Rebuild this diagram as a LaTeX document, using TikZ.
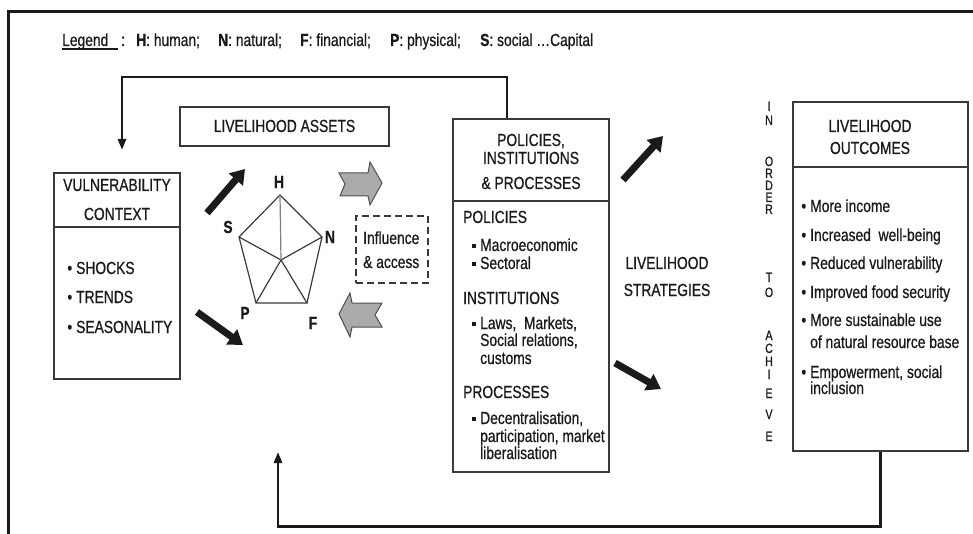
\documentclass[tikz,border=0pt]{standalone}
\usepackage{fontspec}
\setmainfont{Liberation Sans}[FakeStretch=0.79, FakeBold=0.7]
\usetikzlibrary{arrows.meta}
\definecolor{ink}{HTML}{1A1A1A}
\definecolor{boxline}{HTML}{3A3A3A}
\definecolor{chev}{HTML}{ABABAB}
\definecolor{chevline}{HTML}{505050}
\newcommand\sqbul{\llap{\raisebox{3pt}{\rule{4pt}{4pt}}\hspace{4pt}}}
\newcommand\rdbul{\llap{•\hspace{4pt}}}
\begin{document}
\begin{tikzpicture}[x=1pt,y=-1pt,
  txt/.style={inner sep=0pt, text=ink, font=\fontsize{17.5}{20}\selectfont},
  lt/.style={txt, anchor=base west},
  ct/.style={txt, anchor=base},
  vletter/.style={inner sep=0pt, text=ink, anchor=base, font=\fontsize{13.5}{14}\selectfont},
  panel/.style={draw=boxline, line width=1.3pt, inner sep=0pt},
  bigarrow/.style={line width=7pt, draw=ink, -{Triangle[length=14pt,width=18pt]}},
  loop/.style={line width=2.6pt, draw=ink},
  loophead/.style={loop, -{Triangle[length=11pt,width=8pt]}},
  chevron/.style={fill=chev, draw=chevline, line width=1pt, line join=miter},
  pent/.style={draw=boxline, line width=1.2pt},
  plabel/.style={txt, font=\fontsize{17.5}{20}\selectfont\bfseries},
]
\useasboundingbox (0,0) rectangle (973,534);

% outer frame (open towards the lower right)
\draw[line width=3pt, ink] (8,545) -- (8,12) -- (985,12);

% legend
\node[lt] (leg0) at (62,46) {\rlap{\rule[-4pt]{56pt}{1.6pt}}Legend};
\node[lt] (leg1) at (121,46) {:};
\node[lt] (leg2) at (136,46) {\textbf{H}: human;};
\node[lt] (leg3) at (218,46) {\textbf{N}: natural;};
\node[lt] (leg4) at (300,46) {\textbf{F}: financial;};
\node[lt] (leg5) at (390,46) {\textbf{P}: physical;};
\node[lt] (leg6) at (480,46) {\textbf{S}: social …Capital};

% panels
\node[panel, minimum width=126pt, minimum height=206pt] (vc) at (117,276) {};
\node[panel, minimum width=209pt, minimum height=39pt] (la) at (284.5,126.5) {};
\node[panel, minimum width=156pt, minimum height=353pt] (pip) at (531,295.5) {};
\node[panel, minimum width=175pt, minimum height=349pt] (lo) at (880.5,276.5) {};
\node[panel, dashed, dash pattern=on 7pt off 4pt, minimum width=72pt, minimum height=67pt] (inf) at (392,249.5) {};

\draw[boxline, line width=1.3pt] (vc.west |- 0,227) -- (vc.east |- 0,227);
\draw[boxline, line width=1.3pt] (pip.west |- 0,201) -- (pip.east |- 0,201);
\draw[boxline, line width=1.3pt] (lo.west |- 0,167) -- (lo.east |- 0,167);

% vulnerability context
\node[ct] (vct1) at (117,191) {VULNERABILITY};
\node[ct] (vct2) at (117,220) {CONTEXT};
\node[lt] (vcb1) at (76,274) {\rdbul SHOCKS};
\node[lt] (vcb2) at (76,303) {\rdbul TRENDS};
\node[lt] (vcb3) at (76,333) {\rdbul SEASONALITY};

% livelihood assets
\node[ct] (lat) at (284.5,132) {LIVELIHOOD ASSETS};

% asset pentagon
\coordinate (pH) at (280,195);
\coordinate (pN) at (322,237);
\coordinate (pF) at (307,303);
\coordinate (pP) at (256,303);
\coordinate (pS) at (239,237);
\coordinate (pC) at (281,260);
\draw[pent] (pH) -- (pN) -- (pF) -- (pP) -- (pS) -- cycle;
\draw[pent] (pC) -- (pN);
\draw[pent] (pC) -- (pF);
\draw[pent] (pC) -- (pP);
\draw[pent] (pC) -- (pS);
\draw[pent, draw=gray] (pC) -- (pH);
\node[plabel] (lH) at (279,182) {H};
\node[plabel] (lS) at (228,227) {S};
\node[plabel] (lN) at (330,237) {N};
\node[plabel] (lP) at (245,313) {P};
\node[plabel] (lF) at (313,323) {F};

% influence & access
\node[lt] (inf1) at (363,244) {Influence};
\node[lt] (inf2) at (363,268) {\& access};

% grey chevrons between assets and transforming structures
\filldraw[chevron] (339,173) -- (368,173) -- (370,162) -- (382,183) -- (370,205)
  -- (368,196) -- (340,196) -- (345,184) -- cycle;
\filldraw[chevron] (339,314) -- (350,293) -- (352,303) -- (382,303) -- (375,315)
  -- (382,327) -- (352,327) -- (350,337) -- cycle;

% policies, institutions and processes
\node[ct] (ph1) at (531,146) {POLICIES,};
\node[ct] (ph2) at (531,164) {INSTITUTIONS};
\node[ct] (ph3) at (531,189) {\& PROCESSES};
\node[lt] (pp1) at (463,223) {POLICIES};
\node[lt] (pp2) at (480,251) {\sqbul Macroeconomic};
\node[lt] (pp3) at (480,269) {\sqbul Sectoral};
\node[lt] (pi1) at (463,304) {INSTITUTIONS};
\node[lt] (pi2) at (480,329) {\sqbul Laws,\ \ Markets,};
\node[lt] (pi3) at (480,346) {Social relations,};
\node[lt] (pi4) at (480,364) {customs};
\node[lt] (pr1) at (463,398) {PROCESSES};
\node[lt] (pr2) at (480,424) {\sqbul Decentralisation,};
\node[lt] (pr3) at (480,442) {participation, market};
\node[lt] (pr4) at (480,459) {liberalisation};

% livelihood strategies
\node[ct] (ls1) at (667,269) {LIVELIHOOD};
\node[ct] (ls2) at (667,296) {STRATEGIES};

% vertical caption
\foreach \ch/\yy [count=\i] in {I/106,N/120,O/161,R/173,D/185,E/197,R/209,T/277,O/292,
    A/335,C/348,H/361,I/374,E/393,V/414,E/436}
  \node[vletter] (ach\i) at (769,\yy+5) {\ch};

% livelihood outcomes
\node[ct] (lo1) at (870,132) {LIVELIHOOD};
\node[ct] (lo2) at (870,154) {OUTCOMES};
\node[lt] (lob1) at (810,212) {\rdbul More income};
\node[lt] (lob2) at (810,241) {\rdbul Increased\ \ well-being};
\node[lt] (lob3) at (810,269) {\rdbul Reduced vulnerability};
\node[lt] (lob4) at (810,298) {\rdbul Improved food security};
\node[lt] (lob5) at (810,326) {\rdbul More sustainable use};
\node[lt] (lob6) at (810,348) {of natural resource base};
\node[lt] (lob7) at (810,378) {\rdbul Empowerment, social};
\node[lt] (lob8) at (810,394) {inclusion};

% black arrows
\coordinate (a1s) at (207,213); \coordinate (a1e) at (245,169);
\coordinate (a2s) at (197,312); \coordinate (a2e) at (243,345);
\coordinate (a3s) at (623,180); \coordinate (a3e) at (663,136);
\coordinate (a4s) at (615,363); \coordinate (a4e) at (661,389);
\draw[bigarrow] (a1s) -- (a1e);
\draw[bigarrow] (a2s) -- (a2e);
\draw[bigarrow] (a3s) -- (a3e);
\draw[bigarrow] (a4s) -- (a4e);

% feedback loops
\coordinate (topTurn) at (122,77);
\coordinate (vcIn) at (122,150);
\coordinate (botIn) at (278,452);
\draw[loophead] ([xshift=-24pt]pip.north) |- (topTurn) -- (vcIn);
\draw[loophead] (lo.south) -- ++(0,75) -| (botIn);
\end{tikzpicture}
\end{document}
